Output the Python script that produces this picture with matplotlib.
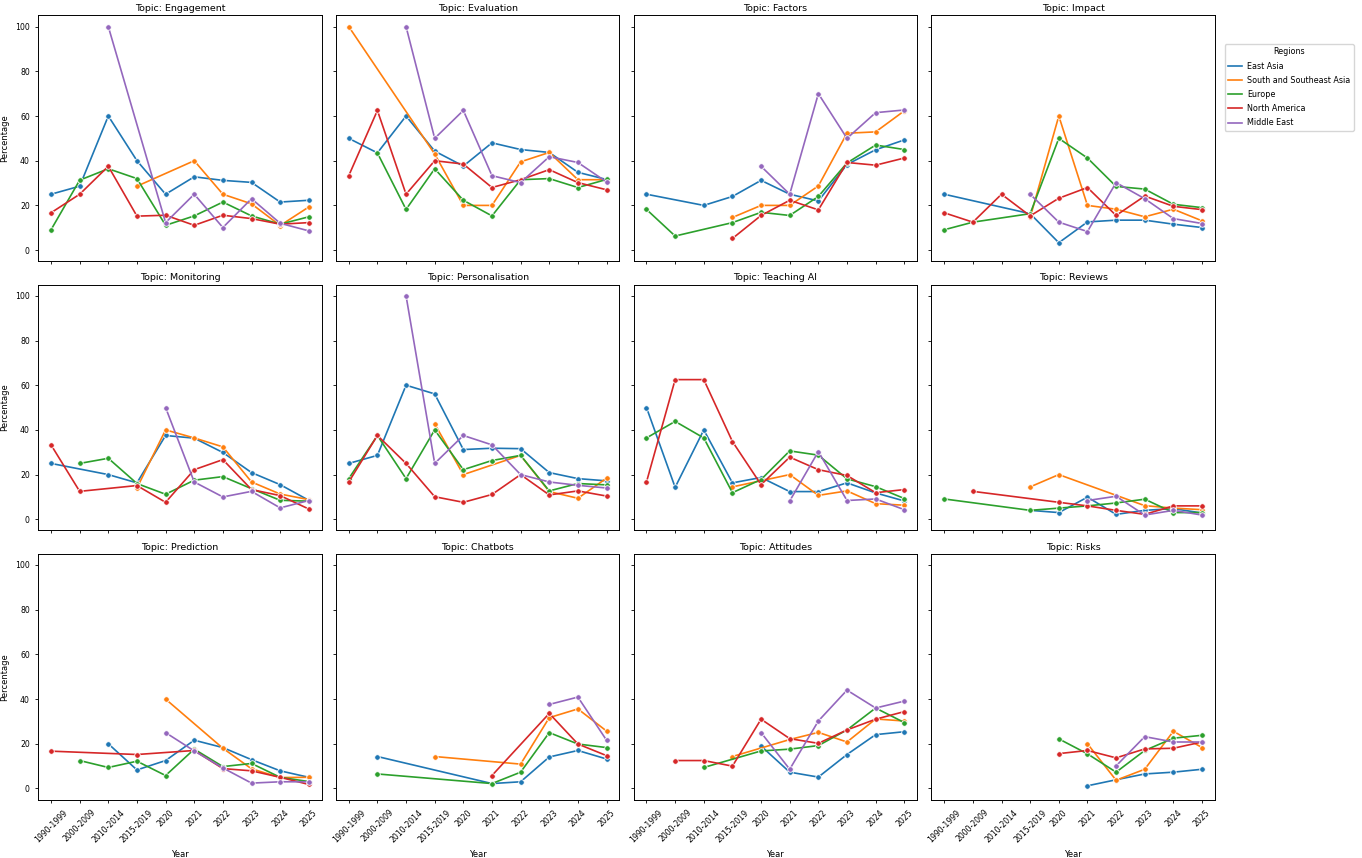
import matplotlib
matplotlib.use("Agg")
import matplotlib.pyplot as plt
from matplotlib.lines import Line2D
import numpy as np

# categorias do eixo x
years = ["1990-1999", "2000-2009", "2010-2014", "2015-2019", "2020",
         "2021", "2022", "2023", "2024", "2025"]
regions = ["East Asia", "South and Southeast Asia", "Europe", "North America", "Middle East"]
colors = ["#1f77b4", "#ff7f0e", "#2ca02c", "#d62728", "#9467bd"]
N = None

# percentagens por tópico e região (None = sem dados)
engagement = {
    "East Asia": [25, 28.6, 60, 40, 25, 32.8, 31.2, 30.3, 21.5, 22.3],
    "South and Southeast Asia": [N, N, N, 28.6, N, 40, 25, 20.7, 11, 19.3],
    "Europe": [9.1, 31.3, 36.4, 32, 11.1, 15.3, 21.5, 15.3, 11.6, 14.9],
    "North America": [16.7, 25, 37.5, 15.2, 15.6, 11.1, 15.6, 14.1, 11.6, 12.3],
    "Middle East": [N, N, 100, N, 12.3, 25, 10.1, 23, 12, 8.6],
}
evaluation = {
    "East Asia": [50, 43.5, 60, 44.3, 37.6, 48, 45, 43.7, 34.8, 31.6],
    "South and Southeast Asia": [100, N, N, 43, 20, 20, 39.5, 43.7, 31.5, 31.5],
    "Europe": [N, 43.5, 18.2, 36.4, 22.3, 15.3, 31.5, 32, 28, 31.6],
    "North America": [33.3, 62.5, 25, 40, 38.5, 28, 31.5, 36, 30.2, 27],
    "Middle East": [N, N, 100, 50, 62.5, 33.3, 30.2, 41.8, 39.2, 30.5],
}
factors = {
    "East Asia": [25, N, 20, 24, 31.2, 25, 22, 38.3, 44.9, 49.3],
    "South and Southeast Asia": [N, N, N, 14.6, 20, 20, 28.7, 52.3, 52.9, 62.3],
    "Europe": [18.2, 6.3, N, 12.3, 16.9, 15.5, 24, 39, 47, 45],
    "North America": [N, N, N, 5.2, 15.5, 22.3, 18, 39.2, 38, 41.2],
    "Middle East": [N, N, N, N, 37.5, 25, 70, 50, 61.5, 62.7],
}
impact = {
    "East Asia": [25, N, N, 16.3, 3.3, 12.6, 13.4, 13.4, 11.6, 10.1],
    "South and Southeast Asia": [N, N, N, 14.6, 60, 20, 18.3, 14.9, 18.3, 13.1],
    "Europe": [9.1, 12.5, N, 16.3, 50, 41.2, 28.5, 27.3, 20.5, 19],
    "North America": [16.7, 12.5, 25, 15.3, 23.2, 28, 15.5, 24.2, 19.6, 18.1],
    "Middle East": [N, N, N, 25, 12.5, 8.3, 30.2, 23, 14.1, 11.9],
}
monitoring = {
    "East Asia": [25, N, 20, 16.3, 37.5, 36.3, 29.9, 20.9, 15.5, 8.5],
    "South and Southeast Asia": [N, N, N, 14, 40, 36.4, 32.4, 16.7, 11.3, 8.8],
    "Europe": [N, 25, 27.3, 16, 11.2, 17.5, 19.1, 13.7, 8.5, 8.1],
    "North America": [33.3, 12.5, N, 15.1, 7.6, 22.2, 26.7, 13.3, 10.6, 4.6],
    "Middle East": [N, N, N, N, 50, 16.7, 10, 12.5, 5.1, 8.4],
}
personalisation = {
    "East Asia": [25, 28.6, 60, 56.1, 31.2, 31.8, 31.6, 20.9, 18.2, 17.2],
    "South and Southeast Asia": [N, N, N, 42.7, 20, N, 28.6, 12.4, 9.4, 18.4],
    "Europe": [18.2, 37.5, 18.2, 40, 22.2, 26.3, 28.6, 12.7, 16, 15.4],
    "North America": [16.7, 37.5, 25, 10.1, 7.6, 11.1, 20, 10.9, 12.7, 10.4],
    "Middle East": [N, N, 100, 25, 37.5, 33.3, 20, 16.7, 15.2, 14],
}
teaching_ai = {
    "East Asia": [50, 14.3, 40, 16.3, 18.7, 12.4, 12.4, 16.3, 11.8, 8.2],
    "South and Southeast Asia": [N, N, N, 14.5, N, 20, 10.7, 12.7, 7, 6.3],
    "Europe": [36.4, 43.8, 36.4, 11.9, 17.8, 30.6, 28.7, 18.1, 14.6, 9.3],
    "North America": [16.7, 62.5, 62.5, 34.8, 15.5, 27.8, 22.2, 19.6, 11.9, 13.3],
    "Middle East": [N, N, N, N, N, 8.2, 30.3, 8.4, 9.1, 4.3],
}
reviews = {
    "East Asia": [N, N, N, 4, 3, 9.9, 2.2, 4, 4.8, 2.8],
    "South and Southeast Asia": [N, N, N, 14.5, 20, N, N, 6.1, 5, 4.3],
    "Europe": [9.1, N, N, 4, 5, 6, 7.3, 9, 3, 3],
    "North America": [N, 12.5, N, N, 7.6, 6, 4, 2.2, 6, 6],
    "Middle East": [N, N, N, N, N, 8.4, 10.3, 1.9, 4, 1.9],
}
prediction = {
    "East Asia": [N, N, 20, 8.3, 12.5, 21.6, 18.3, 12.9, 7.9, 5],
    "South and Southeast Asia": [N, N, N, N, 40, N, 18, 8.8, 4.9, 5],
    "Europe": [N, 12.5, 9.4, 12.2, 5.8, 17.6, 9.8, 11.2, 5, 3.1],
    "North America": [16.7, N, N, 15.2, N, 17, 8.9, 7.9, 5, 1.8],
    "Middle East": [N, N, N, N, 25, 16.8, 9.2, 2.4, 3, 3],
}
chatbots = {
    "East Asia": [N, 14.3, N, N, N, 2.2, 3, 14.1, 17, 13.2],
    "South and Southeast Asia": [N, N, N, 14.3, N, N, 10.9, 31.7, 35.6, 25.7],
    "Europe": [N, 6.5, N, N, N, 2.2, 7.3, 25, 19.9, 18.3],
    "North America": [N, N, N, N, N, 5.8, N, 33.6, 19.9, 14.7],
    "Middle East": [N, N, N, N, N, N, N, 37.6, 40.9, 21.6],
}
attitudes = {
    "East Asia": [N, N, N, N, 19, 7.3, 5.1, 15.2, 24.1, 25.4],
    "South and Southeast Asia": [N, N, N, 14.3, N, 21.9, 25.1, 20.8, 31.1, 30.2],
    "Europe": [N, N, 9.4, N, 16.8, 17.6, 19.2, 26.2, 36, 29.5],
    "North America": [N, 12.5, 12.5, 10, 31, 22.3, 20.2, 26.2, 31, 34.4],
    "Middle East": [N, N, N, N, 25, 8.6, 30.2, 44, 36, 39.1],
}
risks = {
    "East Asia": [N, N, N, N, N, 1.2, 3.9, 6.5, 7.3, 8.6],
    "South and Southeast Asia": [N, N, N, N, N, 20, 3.7, 8.6, 25.6, 18.3],
    "Europe": [N, N, N, N, 22.2, 15.5, 7.3, 17, 22.5, 23.8],
    "North America": [N, N, N, N, 15.6, 17, 13.7, 17.7, 18, 20.8],
    "Middle East": [N, N, N, N, N, N, 10.1, 23.2, 20.8, 20.8],
}

topics = [("Engagement", engagement), ("Evaluation", evaluation),
          ("Factors", factors), ("Impact", impact),
          ("Monitoring", monitoring), ("Personalisation", personalisation),
          ("Teaching AI", teaching_ai), ("Reviews", reviews),
          ("Prediction", prediction), ("Chatbots", chatbots),
          ("Attitudes", attitudes), ("Risks", risks)]

fig, axes = plt.subplots(3, 4, figsize=(13.62, 8.58), dpi=100, sharex=True, sharey=True)
fig.subplots_adjust(left=0.028, right=0.892, top=0.982, bottom=0.068,
                    wspace=0.05, hspace=0.095)

x_all = np.arange(len(years))
for ax, (name, data) in zip(axes.flat, topics):
    for reg, col in zip(regions, colors):
        vals = data[reg]
        # só os anos com dados, a linha liga os pontos existentes
        xs = [x for x, v in zip(x_all, vals) if v is not None]
        ys = [v for v in vals if v is not None]
        ax.plot(xs, ys, color=col, linewidth=1.2, marker="o", markersize=4,
                markeredgecolor="white", markeredgewidth=0.6)
    ax.set_title(f"Topic: {name}", fontsize=6.8, pad=3)
    ax.tick_params(labelsize=5.6, length=2.5, width=0.6)
    for s in ax.spines.values():
        s.set_linewidth(0.7)

ax0 = axes[0, 0]
ax0.set_ylim(-5, 105)
ax0.set_yticks([0, 20, 40, 60, 80, 100])
ax0.set_xlim(-0.45, 9.45)
ax0.set_xticks(x_all)
for ax in axes[-1]:
    ax.set_xticklabels(years, rotation=45)
    ax.set_xlabel("Year", fontsize=6)
for ax in axes[:, 0]:
    ax.set_ylabel("Percentage", fontsize=6)

handles = [Line2D([0], [0], color=c, linewidth=1.2) for c in colors]
axes[0, 3].legend(handles, regions, title="Regions", loc="upper left",
                  bbox_to_anchor=(1.02, 0.9), fontsize=5.8, title_fontsize=5.8,
                  handlelength=1.8, handletextpad=0.6, labelspacing=0.65)

fig.savefig("out.png", dpi=100)
